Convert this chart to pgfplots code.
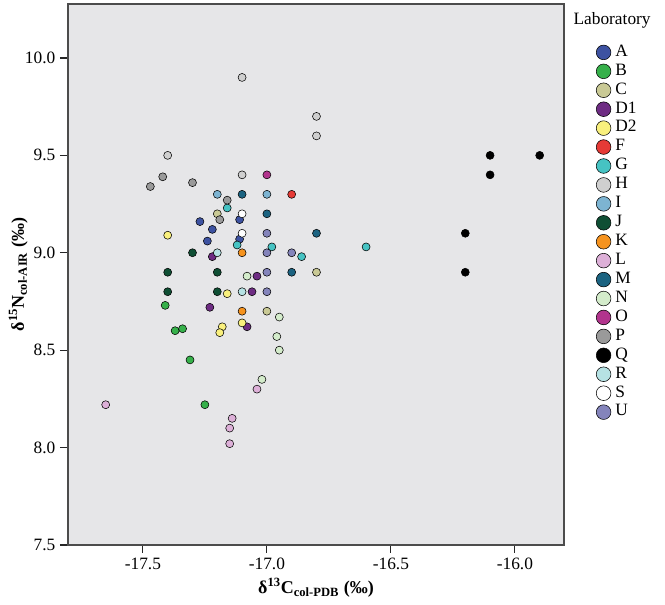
\documentclass[border=0pt]{standalone}
\usepackage{fontspec}
\setmainfont{Liberation Serif}
\usepackage{pgfplots}
\pgfplotsset{compat=1.18}
\definecolor{cA}{HTML}{3D52A1}
\definecolor{cB}{HTML}{36B04A}
\definecolor{cC}{HTML}{C9C995}
\definecolor{cD1}{HTML}{6E2C83}
\definecolor{cD2}{HTML}{F9F07D}
\definecolor{cF}{HTML}{E63A36}
\definecolor{cG}{HTML}{46C3C3}
\definecolor{cH}{HTML}{CFCFCF}
\definecolor{cI}{HTML}{7DB4D2}
\definecolor{cJ}{HTML}{0F4F34}
\definecolor{cK}{HTML}{F6931E}
\definecolor{cL}{HTML}{DDB0D8}
\definecolor{cM}{HTML}{1B6381}
\definecolor{cN}{HTML}{D4ECCB}
\definecolor{cO}{HTML}{B2348D}
\definecolor{cP}{HTML}{9A9A9A}
\definecolor{cQ}{HTML}{000000}
\definecolor{cR}{HTML}{B6E2E4}
\definecolor{cS}{HTML}{FFFFFF}
\definecolor{cU}{HTML}{8484BB}
\definecolor{bg}{HTML}{E6E6E8}
\begin{document}
\begin{tikzpicture}[x=1pt,y=1pt]
\path[use as bounding box] (-51,-45) rectangle (447.75,408.75);
\begin{axis}[
  name=ax,
  at={(0,0)}, anchor=south west,
  scale only axis, width=372pt, height=405.75pt,
  xmin=-17.802, xmax=-15.802, ymin=7.5, ymax=10.277,
  xtick={-17.5,-17,-16.5,-16},
  ytick={7.5,8,8.5,9,9.5,10},
  xtick pos=bottom, ytick pos=left,
  tick align=outside,
  major tick length=6pt,
  every tick/.style={black!85, line width=0.9pt},
  axis line style={black!70, line width=0.9pt},
  axis background/.style={fill=bg},
  /pgf/number format/assume math mode=true,
  /pgf/number format/.cd, fixed, fixed zerofill, precision=1,
  /pgfplots/.cd,
  tick label style={font=\fontsize{13}{15}\selectfont},
  xlabel={\textbf{δ\textsuperscript{13}C\textsubscript{col-PDB} (‰)}},
  ylabel={\textbf{δ\textsuperscript{15}N\textsubscript{col-AIR} (‰)}},
  ylabel shift=-9pt,
  label style={font=\fontsize{13.5}{15}\selectfont},
  every axis plot/.append style={only marks, mark=*, mark size=3pt,
    mark options={draw=black!85, line width=0.6pt}},
  legend image code/.code={\draw[#1, mark size=5.5pt] plot coordinates {(0pt,0pt)};},
  legend style={draw=none, fill=none, at={(1,1)}, anchor=north west,
    xshift=24pt, yshift=-29pt, font=\fontsize{13}{14}\selectfont,
    row sep=0pt, inner sep=0pt,
    nodes={inner sep=0pt, text height=10pt, text depth=4.2pt}},
  legend cell align=left,
]
\addplot[mark options={fill=cA}] coordinates {(-17.27,9.16) (-17.22,9.12) (-17.24,9.06) (-17.11,9.17) (-17.11,9.07)};
\addlegendentry{~A}
\addplot[mark options={fill=cB}] coordinates {(-17.41,8.73) (-17.37,8.60) (-17.34,8.61) (-17.31,8.45) (-17.25,8.22)};
\addlegendentry{~B}
\addplot[mark options={fill=cC}] coordinates {(-17.2,9.2) (-17.0,8.7) (-16.8,8.9)};
\addlegendentry{~C}
\addplot[mark options={fill=cD1}] coordinates {(-17.22,8.98) (-17.04,8.88) (-17.06,8.8) (-17.23,8.72) (-17.08,8.62)};
\addlegendentry{~D1}
\addplot[mark options={fill=cD2}] coordinates {(-17.4,9.09) (-17.16,8.79) (-17.18,8.62) (-17.1,8.64) (-17.19,8.59)};
\addlegendentry{~D2}
\addplot[mark options={fill=cF}] coordinates {(-16.9,9.3)};
\addlegendentry{~F}
\addplot[mark options={fill=cG}] coordinates {(-17.16,9.23) (-17.12,9.04) (-16.98,9.03) (-16.86,8.98) (-16.6,9.03)};
\addlegendentry{~G}
\addplot[mark options={fill=cH}] coordinates {(-17.1,9.9) (-16.8,9.7) (-16.8,9.6) (-17.4,9.5) (-17.1,9.4)};
\addlegendentry{~H}
\addplot[mark options={fill=cI}] coordinates {(-17.2,9.3) (-17.0,9.3)};
\addlegendentry{~I}
\addplot[mark options={fill=cJ}] coordinates {(-17.3,9.0) (-17.4,8.9) (-17.2,8.9) (-17.4,8.8) (-17.2,8.8)};
\addlegendentry{~J}
\addplot[mark options={fill=cK}] coordinates {(-17.1,9.0) (-17.1,8.7)};
\addlegendentry{~K}
\addplot[mark options={fill=cL}] coordinates {(-17.04,8.30) (-17.65,8.22) (-17.14,8.15) (-17.15,8.10) (-17.15,8.02)};
\addlegendentry{~L}
\addplot[mark options={fill=cM}] coordinates {(-17.1,9.3) (-17.0,9.2) (-16.8,9.1) (-16.9,8.9)};
\addlegendentry{~M}
\addplot[mark options={fill=cN}] coordinates {(-17.08,8.88) (-16.95,8.67) (-16.96,8.57) (-16.95,8.50) (-17.02,8.35)};
\addlegendentry{~N}
\addplot[mark options={fill=cO}] coordinates {(-17.0,9.4)};
\addlegendentry{~O}
\addplot[mark options={fill=cP}] coordinates {(-17.42,9.39) (-17.47,9.34) (-17.3,9.36) (-17.16,9.27) (-17.19,9.17)};
\addlegendentry{~P}
\addplot[mark options={fill=cQ, draw=black}] coordinates {(-16.1,9.5) (-15.9,9.5) (-16.1,9.4) (-16.2,9.1) (-16.2,8.9)};
\addlegendentry{~Q}
\addplot[mark options={fill=cR}] coordinates {(-17.2,9.0) (-17.1,8.8)};
\addlegendentry{~R}
\addplot[mark options={fill=cS}] coordinates {(-17.1,9.2) (-17.1,9.1)};
\addlegendentry{~S}
\addplot[mark options={fill=cU}] coordinates {(-17.0,9.1) (-17.0,9.0) (-16.9,9.0) (-17.0,8.9) (-17.0,8.8)};
\addlegendentry{~U}
\end{axis}
\node[anchor=north west, inner sep=0pt, font=\fontsize{13}{14}\selectfont] at ([xshift=7pt,yshift=-6pt]ax.north east) {Laboratory};
\end{tikzpicture}
\end{document}
